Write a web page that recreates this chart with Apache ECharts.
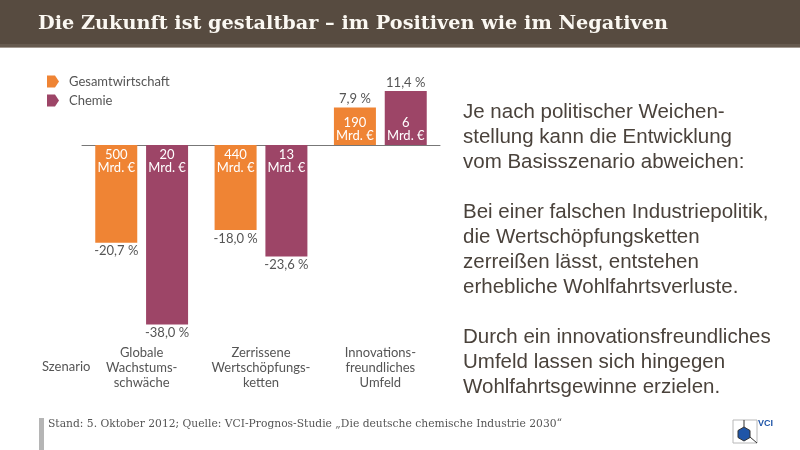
<!DOCTYPE html>
<html>
<head>
<meta charset="utf-8">
<script src="https://cdn.jsdelivr.net/npm/echarts@6/dist/echarts.min.js"></script>
<style>
  html, body { margin: 0; padding: 0; background: #fff; }
  #chart { width: 800px; height: 450px; }
</style>
</head>
<body>
<div id="chart"></div>
<script>
// Szenarien (Kategorien)
const categories = ['Globale\nWachstums-\nschwäche', 'Zerrissene\nWertschöpfungs-\nketten', 'Innovations-\nfreundliches\nUmfeld']
// Veränderung in %
const gesamtPct = [-20.7, -18.0, 7.9]
const chemiePct = [-38.0, -23.6, 11.4]
// Wertschöpfung in Mrd. €
const gesamtMrd = [500, 440, 190]
const chemieMrd = [20, 13, 6]

const ORANGE = '#ef8434'
const PURPLE = '#9d4567'
const GREY = '#555'

const chart = echarts.init(document.getElementById('chart'))

// Textbreite messen, damit Titel/Fußzeile auf die Breite des Originals passen
function textWidth(text, font) {
  const ctx = document.createElement('canvas').getContext('2d')
  ctx.font = font
  return ctx.measureText(text).width
}

const titleText = 'Die Zukunft ist gestaltbar – im Positiven wie im Negativen'
const titleFont = 'bold 19px "DejaVu Serif"'
const footText = 'Stand: 5. Oktober 2012; Quelle: VCI-Prognos-Studie „Die deutsche chemische Industrie 2030“'
const footFont = '11px "DejaVu Serif"'

const pctText = v => v.toFixed(1).replace('.', ',') + ' %'

// Innenbeschriftung (Mrd. €) – an der Nulllinie
function mainData(vals, mrd) {
  return vals.map((v, i) => ({
    value: v,
    label: { position: v < 0 ? 'insideTop' : 'insideBottom', formatter: mrd[i] + '\nMrd. €' }
  }))
}
// Außenbeschriftung (%) – am Balkenende
function pctData(vals) {
  return vals.map(v => ({
    value: v,
    label: { position: v < 0 ? 'bottom' : 'top', formatter: pctText(v) }
  }))
}

const rightText = [
  'Je nach politischer Weichen-',
  'stellung kann die Entwicklung',
  'vom Basisszenario abweichen:',
  '',
  'Bei einer falschen Industriepolitik,',
  'die Wertschöpfungsketten',
  'zerreißen lässt, entstehen',
  'erhebliche Wohlfahrtsverluste.',
  '',
  'Durch ein innovationsfreundliches',
  'Umfeld lassen sich hingegen',
  'Wohlfahrtsgewinne erzielen.'
].join('\n')

const option = {
  animation: false,
  textStyle: { fontFamily: 'Lato' },
  legend: {
    data: ['Gesamtwirtschaft', 'Chemie'],
    orient: 'vertical',
    left: 42,
    top: 70,
    itemWidth: 12,
    itemHeight: 12,
    itemGap: 6,
    icon: 'path://M0,0 L8,0 L12,6 L8,12 L0,12 Z',
    textStyle: { fontSize: 13, color: GREY, fontFamily: 'Lato', padding: [0, 0, 0, 5] }
  },
  grid: { left: 82, right: 360, top: 74, height: 260 },
  xAxis: [
    {
      type: 'category',
      data: categories,
      axisLine: { onZero: true, lineStyle: { color: '#777', width: 1 } },
      axisTick: { show: false },
      axisLabel: { show: false }
    },
    {
      type: 'category',
      data: categories,
      position: 'bottom',
      axisLine: { show: false, onZero: false },
      axisTick: { show: false },
      axisLabel: { interval: 0, margin: 11, color: GREY, fontSize: 13, lineHeight: 15, fontFamily: 'Lato' }
    }
  ],
  yAxis: {
    type: 'value',
    min: -40,
    max: 15,
    show: false,
    splitLine: { show: false }
  },
  series: [
    {
      name: 'Gesamtwirtschaft',
      type: 'bar',
      data: mainData(gesamtPct, gesamtMrd),
      barWidth: 42,
      barGap: '21%',
      itemStyle: { color: ORANGE },
      label: { show: true, color: '#fff', fontSize: 13, lineHeight: 13, distance: 3, fontFamily: 'Lato' }
    },
    {
      name: 'Chemie',
      type: 'bar',
      data: mainData(chemiePct, chemieMrd),
      barWidth: 42,
      barGap: '21%',
      itemStyle: { color: PURPLE },
      label: { show: true, color: '#fff', fontSize: 13, lineHeight: 13, distance: 3, fontFamily: 'Lato' }
    },
    {
      name: 'pctGesamt',
      type: 'bar',
      xAxisIndex: 1,
      data: pctData(gesamtPct),
      barWidth: 42,
      barGap: '21%',
      silent: true,
      itemStyle: { color: 'rgba(0,0,0,0)' },
      label: { show: true, color: GREY, fontSize: 13, lineHeight: 13, distance: 2, fontFamily: 'Lato' }
    },
    {
      name: 'pctChemie',
      type: 'bar',
      xAxisIndex: 1,
      data: pctData(chemiePct),
      barWidth: 42,
      barGap: '21%',
      silent: true,
      itemStyle: { color: 'rgba(0,0,0,0)' },
      label: { show: true, color: GREY, fontSize: 13, lineHeight: 13, distance: 2, fontFamily: 'Lato' }
    }
  ],
  graphic: [
    // Titelbalken
    { type: 'rect', shape: { x: 0, y: 0, width: 800, height: 47 }, style: { fill: '#574b40' }, z: 0 },
    { type: 'rect', shape: { x: 0, y: 44, width: 800, height: 3 }, style: { fill: '#665a4f' }, z: 1 },
    { type: 'rect', shape: { x: 0, y: 47, width: 800, height: 1 }, style: { fill: '#a39a92' }, z: 1 },
    {
      type: 'text', x: 38, y: 24, z: 2,
      scaleX: 630 / textWidth(titleText, titleFont), originX: 0,
      style: { text: titleText, font: titleFont, fill: '#fbf8f2', verticalAlign: 'middle' }
    },
    // Szenario
    {
      type: 'text', x: 42, y: 367,
      style: { text: 'Szenario', font: '13px Lato', fill: GREY, verticalAlign: 'middle' }
    },
    // Erläuterung rechts
    {
      type: 'text', x: 463, y: 100,
      style: { text: rightText, font: '20.5px "Liberation Sans"', fill: '#4a423b', lineHeight: 25, verticalAlign: 'top' }
    },
    // Fußzeile
    { type: 'rect', shape: { x: 39, y: 418, width: 5, height: 32 }, style: { fill: '#b5b5b5' } },
    {
      type: 'text', x: 48, y: 424,
      scaleX: 514 / textWidth(footText, footFont), originX: 0,
      style: { text: footText, font: footFont, fill: GREY, verticalAlign: 'middle' }
    },
    // VCI-Logo
    { type: 'rect', shape: { x: 733, y: 420, width: 24, height: 23 }, style: { fill: '#fff', stroke: '#b8b8b8', lineWidth: 1 } },
    { type: 'line', shape: { x1: 744, y1: 420, x2: 744, y2: 427 }, style: { stroke: '#333', lineWidth: 1 } },
    { type: 'line', shape: { x1: 750, y1: 437, x2: 757, y2: 443 }, style: { stroke: '#333', lineWidth: 1 } },
    {
      type: 'polygon',
      shape: { points: [[744, 427], [750, 430.5], [750, 437.5], [744, 441], [738, 437.5], [738, 430.5]] },
      style: { fill: '#1f55a8', stroke: '#333', lineWidth: 1 }
    },
    {
      type: 'text', x: 758, y: 424,
      style: { text: 'VCI', font: 'bold 9px "Liberation Sans"', fill: '#1f55a8', verticalAlign: 'middle' }
    }
  ]
}

chart.setOption(option)
</script>
</body>
</html>
